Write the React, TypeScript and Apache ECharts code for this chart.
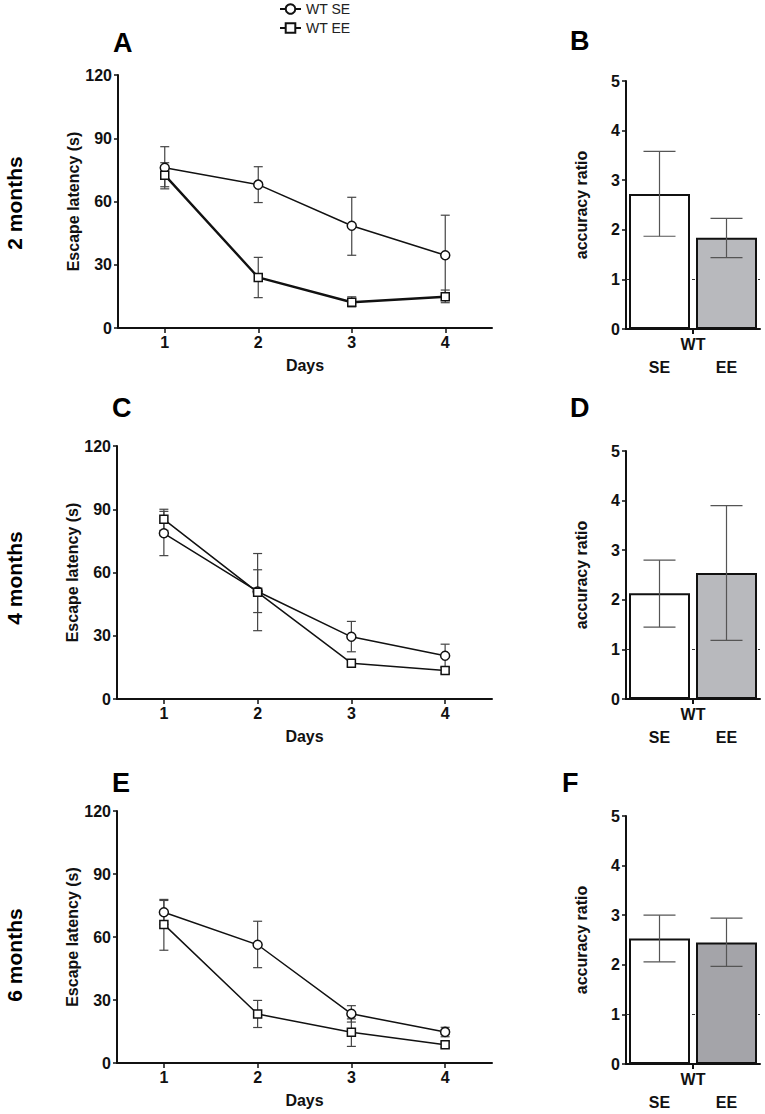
import React, { useEffect, useRef } from "react";
import * as echarts from "echarts";

// ---------- data ----------
const days = ["1", "2", "3", "4"];
const groups = ["SE", "EE"];
const groupName = "WT";
const seriesNames = ["WT SE", "WT EE"];
const rowLabels = ["2 months", "4 months", "6 months"];
const panelLetters = ["A", "B", "C", "D", "E", "F"];

// Panel A (2 months) escape latency
const aSE = [76, 68, 48.5, 34.5];
const aSElo = [66, 59.5, 34.5, 15.5];
const aSEhi = [86, 76.5, 62, 53.5];
const aEE = [72.5, 24, 12.2, 14.8];
const aEElo = [67, 14.4, 10, 12];
const aEEhi = [78.4, 33.5, 14.8, 18];

// Panel C (4 months)
const cSE = [78.6, 51, 29.5, 20.5];
const cSElo = [68, 41, 22.4, 15];
const cSEhi = [89, 61.3, 36.8, 26];
const cEE = [85.2, 50.6, 17, 13.5];
const cEElo = [80, 32.4, 15.5, 12.2];
const cEEhi = [90, 69, 18.5, 15];

// Panel E (6 months)
const eSE = [71.8, 56.3, 23.4, 14.8];
const eSElo = [66, 45.4, 19.5, 12.5];
const eSEhi = [77.9, 67.5, 27.3, 17];
const eEE = [66, 23.3, 14.6, 8.7];
const eEElo = [53.7, 16.9, 7.9, 7.5];
const eEEhi = [77.4, 29.8, 21, 10];

// Panels B, D, F accuracy ratio [SE, EE]
const bRatio = [2.72, 1.84];
const bLo = [1.87, 1.44];
const bHi = [3.58, 2.23];
const dRatio = [2.13, 2.54];
const dLo = [1.45, 1.18];
const dHi = [2.8, 3.9];
const fRatio = [2.53, 2.45];
const fLo = [2.06, 1.97];
const fHi = [3.0, 2.94];

// ---------- styling ----------
const FONT = "Liberation Sans, Arial, Helvetica, sans-serif";
const INK = "#111";
const boldText = (size: number) => ({
  fontFamily: FONT,
  fontWeight: "bold" as const,
  fontSize: size,
  color: INK,
});

function errorRender(capHalf: number, color: string) {
  return (params: any, api: any) => {
    const x = api.value(0);
    const lo = api.coord([x, api.value(1)]);
    const hi = api.coord([x, api.value(2)]);
    const style = { stroke: color, lineWidth: 1.2 };
    return {
      type: "group",
      children: [
        { type: "line", shape: { x1: lo[0], y1: lo[1], x2: hi[0], y2: hi[1] }, style },
        { type: "line", shape: { x1: lo[0] - capHalf, y1: lo[1], x2: lo[0] + capHalf, y2: lo[1] }, style },
        { type: "line", shape: { x1: hi[0] - capHalf, y1: hi[1], x2: hi[0] + capHalf, y2: hi[1] }, style },
      ],
    };
  };
}

export default function App() {
  const ref = useRef<HTMLDivElement>(null);

  useEffect(() => {
    if (!ref.current) return;
    const chart = echarts.init(ref.current, undefined, { renderer: "svg" });

    const grid: any[] = [];
    const xAxis: any[] = [];
    const yAxis: any[] = [];
    const series: any[] = [];

    const linePanels = [
      { box: { left: 118, top: 75, width: 374, height: 253 }, se: [aSE, aSElo, aSEhi], ee: [aEE, aEElo, aEEhi], eeW: 2.4 },
      { box: { left: 117, top: 446, width: 375, height: 253 }, se: [cSE, cSElo, cSEhi], ee: [cEE, cEElo, cEEhi], eeW: 1.5 },
      { box: { left: 117, top: 811, width: 375, height: 252 }, se: [eSE, eSElo, eSEhi], ee: [eEE, eEElo, eEEhi], eeW: 1.5 },
    ];
    const barPanels = [
      { box: { left: 626, top: 81, width: 134, height: 248 }, v: [bRatio, bLo, bHi], ee: "#b8b9bd" },
      { box: { left: 626, top: 451, width: 134, height: 248 }, v: [dRatio, dLo, dHi], ee: "#b8b9bd" },
      { box: { left: 626, top: 816, width: 134, height: 248 }, v: [fRatio, fLo, fHi], ee: "#a4a4a9" },
    ];

    const axisLine = { show: true, lineStyle: { color: INK, width: 2 } };
    const tickStyle = { color: INK, width: 1.5 };

    linePanels.forEach((p) => {
      const gi = grid.length;
      grid.push({ ...p.box, containLabel: false });
      const xi = xAxis.length;
      xAxis.push({
        type: "category",
        gridIndex: gi,
        data: days,
        boundaryGap: true,
        axisLine,
        axisTick: { show: true, alignWithLabel: true, length: 5, lineStyle: tickStyle },
        axisLabel: { ...boldText(16), margin: 6 },
        name: "Days",
        nameLocation: "middle",
        nameGap: 29,
        nameTextStyle: boldText(16),
        splitLine: { show: false },
      });
      const yi = yAxis.length;
      yAxis.push({
        type: "value",
        gridIndex: gi,
        min: 0,
        max: 120,
        interval: 30,
        axisLine,
        axisTick: { show: true, length: 4, lineStyle: tickStyle },
        axisLabel: { ...boldText(16), margin: 6 },
        splitLine: { show: false },
        name: "Escape latency (s)",
        nameLocation: "middle",
        nameGap: 36,
        nameTextStyle: boldText(16),
      });
      const defs = [
        { name: seriesNames[0], vals: p.se, symbol: "circle", size: 9, w: 1.5 },
        { name: seriesNames[1], vals: p.ee, symbol: "rect", size: 8, w: p.eeW },
      ];
      defs.forEach((d) => {
        series.push({
          type: "custom",
          xAxisIndex: xi,
          yAxisIndex: yi,
          renderItem: errorRender(4.5, "#444"),
          data: days.map((_, i) => [i, d.vals[1][i], d.vals[2][i]]),
          encode: { x: 0, y: [1, 2] },
          z: 2,
          silent: true,
        });
      });
      defs.forEach((d) => {
        series.push({
          type: "line",
          name: d.name,
          xAxisIndex: xi,
          yAxisIndex: yi,
          data: d.vals[0],
          symbol: d.symbol,
          symbolSize: d.size,
          showSymbol: true,
          itemStyle: { color: "#fff", borderColor: INK, borderWidth: 1.5 },
          lineStyle: { color: INK, width: d.w },
          z: 3,
        });
      });
    });

    barPanels.forEach((p) => {
      const gi = grid.length;
      grid.push({ ...p.box, containLabel: false });
      const xi = xAxis.length;
      xAxis.push({
        type: "category",
        gridIndex: gi,
        data: groups,
        boundaryGap: true,
        axisLine,
        axisTick: { show: false },
        axisLabel: { ...boldText(16), margin: 30 },
        splitLine: { show: false },
      });
      xAxis.push({
        type: "value",
        gridIndex: gi,
        position: "bottom",
        min: 0,
        max: 2,
        axisLine: { show: false },
        axisTick: { show: true, customValues: [1], length: 5, lineStyle: { color: INK, width: 2 } },
        axisLabel: { ...boldText(16), customValues: [1], formatter: () => groupName, margin: 7 },
        splitLine: { show: false },
      });
      const yi = yAxis.length;
      yAxis.push({
        type: "value",
        gridIndex: gi,
        min: 0,
        max: 5,
        interval: 1,
        axisLine,
        axisTick: { show: true, length: 4, lineStyle: tickStyle },
        axisLabel: { ...boldText(16), margin: 6 },
        splitLine: { show: false },
        name: "accuracy ratio",
        nameLocation: "middle",
        nameGap: 37,
        nameTextStyle: boldText(16),
      });
      // dashed reference at ratio 1 (behind bars)
      series.push({
        type: "line",
        xAxisIndex: xi,
        yAxisIndex: yi,
        data: [null, null],
        showSymbol: false,
        silent: true,
        z: 1,
        markLine: {
          silent: true,
          z: 1,
          symbol: "none",
          label: { show: false },
          lineStyle: { color: "#333", type: [3, 3], width: 1 },
          data: [{ yAxis: 1 }],
        },
      });
      series.push({
        type: "bar",
        xAxisIndex: xi,
        yAxisIndex: yi,
        barWidth: 61,
        data: p.v[0].map((v, i) => ({
          value: v,
          itemStyle: { color: i === 0 ? "#ffffff" : p.ee },
        })),
        itemStyle: { borderColor: INK, borderWidth: 2 },
        z: 6,
      });
      series.push({
        type: "custom",
        xAxisIndex: xi,
        yAxisIndex: yi,
        renderItem: errorRender(16, "#555"),
        data: groups.map((_, i) => [i, p.v[1][i], p.v[2][i]]),
        encode: { x: 0, y: [1, 2] },
        z: 7,
        silent: true,
      });
    });

    const letterPos = [
      [113, 43],
      [570, 41],
      [112, 408],
      [570, 408],
      [112, 783],
      [562, 783],
    ];
    const rowPos = [
      [14, 203],
      [14, 578],
      [14, 955],
    ];
    const graphic: any[] = [];
    panelLetters.forEach((l, i) => {
      graphic.push({
        type: "text",
        x: letterPos[i][0],
        y: letterPos[i][1],
        style: {
          text: l,
          font: `bold 27px ${FONT}`,
          fill: "#000",
          textAlign: "left",
          textVerticalAlign: "middle",
        },
      });
    });
    rowLabels.forEach((t, i) => {
      graphic.push({
        type: "text",
        x: rowPos[i][0],
        y: rowPos[i][1],
        rotation: Math.PI / 2,
        style: {
          text: t,
          font: `bold 21px ${FONT}`,
          fill: "#000",
          textAlign: "center",
          textVerticalAlign: "middle",
        },
      });
    });

    chart.setOption({
      animation: false,
      backgroundColor: "#fff",
      legend: {
        data: seriesNames,
        orient: "vertical",
        left: 279,
        top: 2,
        itemWidth: 21,
        itemHeight: 12,
        itemGap: 5,
        padding: 0,
        textStyle: { fontFamily: FONT, fontSize: 14, color: "#222" },
        selectedMode: false,
      },
      grid,
      xAxis,
      yAxis,
      series,
      graphic,
    });

    return () => chart.dispose();
  }, []);

  return (
    <div
      ref={ref}
      style={{ position: "absolute", left: 0, top: 0, width: 765, height: 1114 }}
    />
  );
}
